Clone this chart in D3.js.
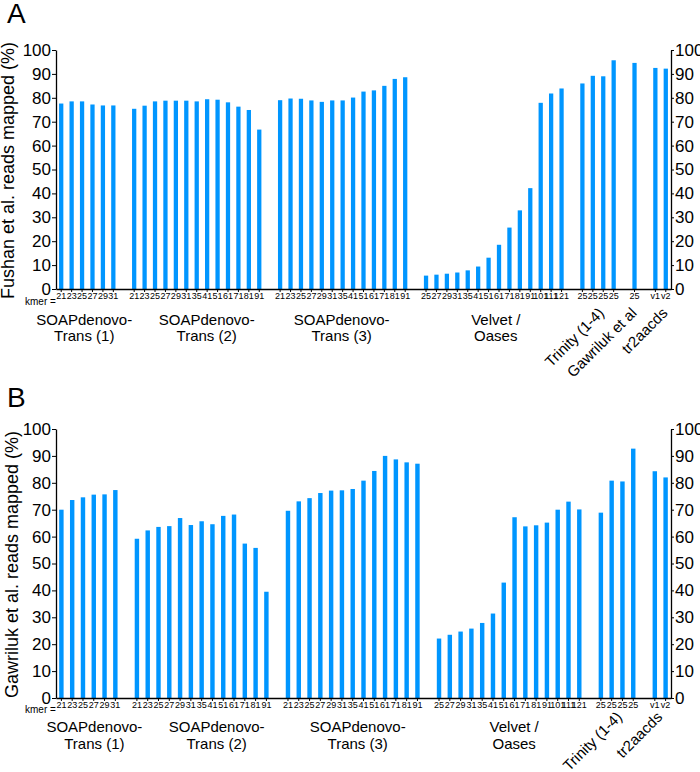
<!DOCTYPE html>
<html><head><meta charset="utf-8">
<script src="https://cdn.jsdelivr.net/npm/d3@7"></script>
<style>body{margin:0;background:#fff} text{font-family:"Liberation Sans",Arial,sans-serif;fill:#000}</style>
</head><body><svg id="c" width="700" height="772"></svg>
<script>
// ---------- data ----------
const kmerSoap1 = ["21","23","25","27","29","31"];
const kmerSoap23 = ["21","23","25","27","29","31","35","41","51","61","71","81","91"];
const kmerVelvet = ["25","27","29","31","35","41","51","61","71","81","91","101","111","121"];
const kmerTrinity = ["25","25","25","25"];
const kmerGawriluk = ["25"];
const kmerTr2 = ["v1","v2"];

const groupTitles = [["SOAPdenovo-","Trans (1)"],["SOAPdenovo-","Trans (2)"],["SOAPdenovo-","Trans (3)"],["Velvet /","Oases"],["Trinity (1-4)"],["Gawriluk et al"],["tr2aacds"]];
const groupKmers = [kmerSoap1, kmerSoap23, kmerSoap23, kmerVelvet, kmerTrinity, kmerGawriluk, kmerTr2];

const fushanSoap1 = [77.6, 78.5, 78.5, 77.2, 76.8, 76.8];
const fushanSoap2 = [75.4, 76.7, 78.5, 78.8, 78.8, 78.8, 78.5, 79.4, 79.2, 78.1, 76.3, 74.9, 66.7];
const fushanSoap3 = [79.0, 79.7, 79.6, 78.9, 78.3, 78.9, 78.9, 80.1, 82.6, 83.1, 85.0, 87.9, 88.6];
const fushanVelvet = [5.6, 6.0, 6.4, 6.9, 7.8, 9.4, 13.1, 18.5, 25.7, 32.9, 42.2, 77.9, 81.8, 83.9];
const fushanTrinity = [86.0, 89.2, 89.0, 95.7];
const fushanGawriluk = [94.6];
const fushanTr2 = [92.5, 92.2];

const gawSoap1 = [70.0, 73.6, 74.6, 75.6, 75.7, 77.3];
const gawSoap2 = [59.2, 62.3, 63.6, 63.9, 66.9, 64.3, 65.7, 64.6, 67.7, 68.2, 57.4, 55.8, 39.5];
const gawSoap3 = [69.6, 73.1, 74.3, 76.2, 77.1, 77.2, 77.7, 80.8, 84.4, 90.0, 88.7, 87.6, 87.1];
const gawVelvet = [22.1, 23.5, 24.7, 25.8, 27.9, 31.4, 42.9, 67.2, 63.8, 64.2, 65.2, 70.0, 73.0, 70.1];
const gawTrinity = [68.9, 80.8, 80.5, 92.7];
const gawTr2 = [84.3, 82.0];

const fushanValues = [fushanSoap1, fushanSoap2, fushanSoap3, fushanVelvet, fushanTrinity, fushanGawriluk, fushanTr2];
const gawrilukValues = [gawSoap1, gawSoap2, gawSoap3, gawVelvet, gawTrinity, null, gawTr2];

const yTicks = [0,10,20,30,40,50,60,70,80,90,100];

// ---------- layout ----------
const panels = [
  {letter:"A", letterY:23, values:fushanValues, title:"Fushan et al. reads mapped (%)", titleX:14,
   top:50, bottom:289, left:56, right:671, kmerY:305, lineY:[325,341],
   hDx:[-3,10,-1,2], rotDx:[7,3,8], rotY:314},
  {letter:"B", letterY:407, values:gawrilukValues, title:"Gawriluk et al. reads mapped (%)", titleX:18,
   top:429, bottom:698, left:56, right:671, kmerY:713, lineY:[732,749],
   hDx:[6,15,5,5], rotDx:[6,3], rotY:718}
];
const barColor = "#0096ff";

const svg = d3.select("#c");

panels.forEach(p => {
  const g = svg.append("g");
  const slots = [];
  const groups = [];
  p.values.forEach((vals, gi) => {
    if (!vals) return;
    if (groups.length) slots.push("gap" + gi);
    const keys = vals.map((v, i) => ({key: gi + "-" + i, value: v, label: groupKmers[gi][i], gi}));
    keys.forEach(k => slots.push(k.key));
    groups.push({gi, bars: keys});
  });
  const bars = groups.flatMap(gr => gr.bars);
  const labelOf = new Map(bars.map(b => [b.key, b.label]));

  const x = d3.scaleBand().domain(slots).range([p.left, p.right]).paddingInner(0.59).paddingOuter(0.295);
  const y = d3.scaleLinear().domain([0, 100]).range([p.bottom, p.top]);

  g.selectAll("rect.bar").data(bars).join("rect")
    .attr("x", d => x(d.key)).attr("width", x.bandwidth())
    .attr("y", d => y(d.value)).attr("height", d => y(0) - y(d.value))
    .attr("fill", barColor);

  const ax = g.append("g").attr("transform", `translate(0,${p.bottom})`)
    .call(d3.axisBottom(x).tickValues(bars.map(b => b.key)).tickFormat(k => labelOf.get(k)).tickSize(3).tickSizeOuter(0).tickPadding(1));
  ax.selectAll("text").attr("font-size", 9).attr("font-family", "Liberation Sans, Arial, sans-serif");
  ax.select(".domain").attr("stroke-width", 1.3);

  const ayl = g.append("g").attr("transform", `translate(${p.left},0)`)
    .call(d3.axisLeft(y).tickValues(yTicks).tickSize(4).tickSizeOuter(0).tickPadding(1));
  ayl.selectAll("text").attr("font-size", 17).attr("font-family", "Liberation Sans, Arial, sans-serif");
  ayl.select(".domain").attr("stroke-width", 1.3);

  const ayr = g.append("g").attr("transform", `translate(${p.right},0)`)
    .call(d3.axisRight(y).tickValues(yTicks).tickSize(3).tickSizeOuter(0).tickPadding(1));
  ayr.selectAll("text").attr("font-size", 17).attr("font-family", "Liberation Sans, Arial, sans-serif");
  ayr.select(".domain").attr("stroke-width", 1.3);

  g.append("text").attr("x", 25).attr("y", p.kmerY).attr("font-size", 10).text("kmer =");

  g.append("text").attr("transform", `translate(${p.titleX},${(p.top + p.bottom) / 2 + 1}) rotate(-90)`)
    .attr("text-anchor", "middle").attr("font-size", 18).text(p.title);

  g.append("text").attr("x", 7).attr("y", p.letterY).attr("font-size", 28).text(p.letter);

  let hi = 0, ri = 0;
  groups.forEach(gr => {
    const first = x(gr.bars[0].key), last = x(gr.bars[gr.bars.length - 1].key) + x.bandwidth();
    const cx = (first + last) / 2;
    const lines = groupTitles[gr.gi];
    if (lines.length === 2) {
      const dx = p.hDx[hi++];
      lines.forEach((ln, li) => g.append("text").attr("x", cx + dx).attr("y", p.lineY[li])
        .attr("text-anchor", "middle").attr("font-size", 15).text(ln));
    } else {
      const dx = p.rotDx[ri++];
      g.append("text").attr("transform", `translate(${cx + dx},${p.rotY}) rotate(-45)`)
        .attr("text-anchor", "end").attr("font-size", 15).text(lines[0]);
    }
  });
});
</script></body></html>
